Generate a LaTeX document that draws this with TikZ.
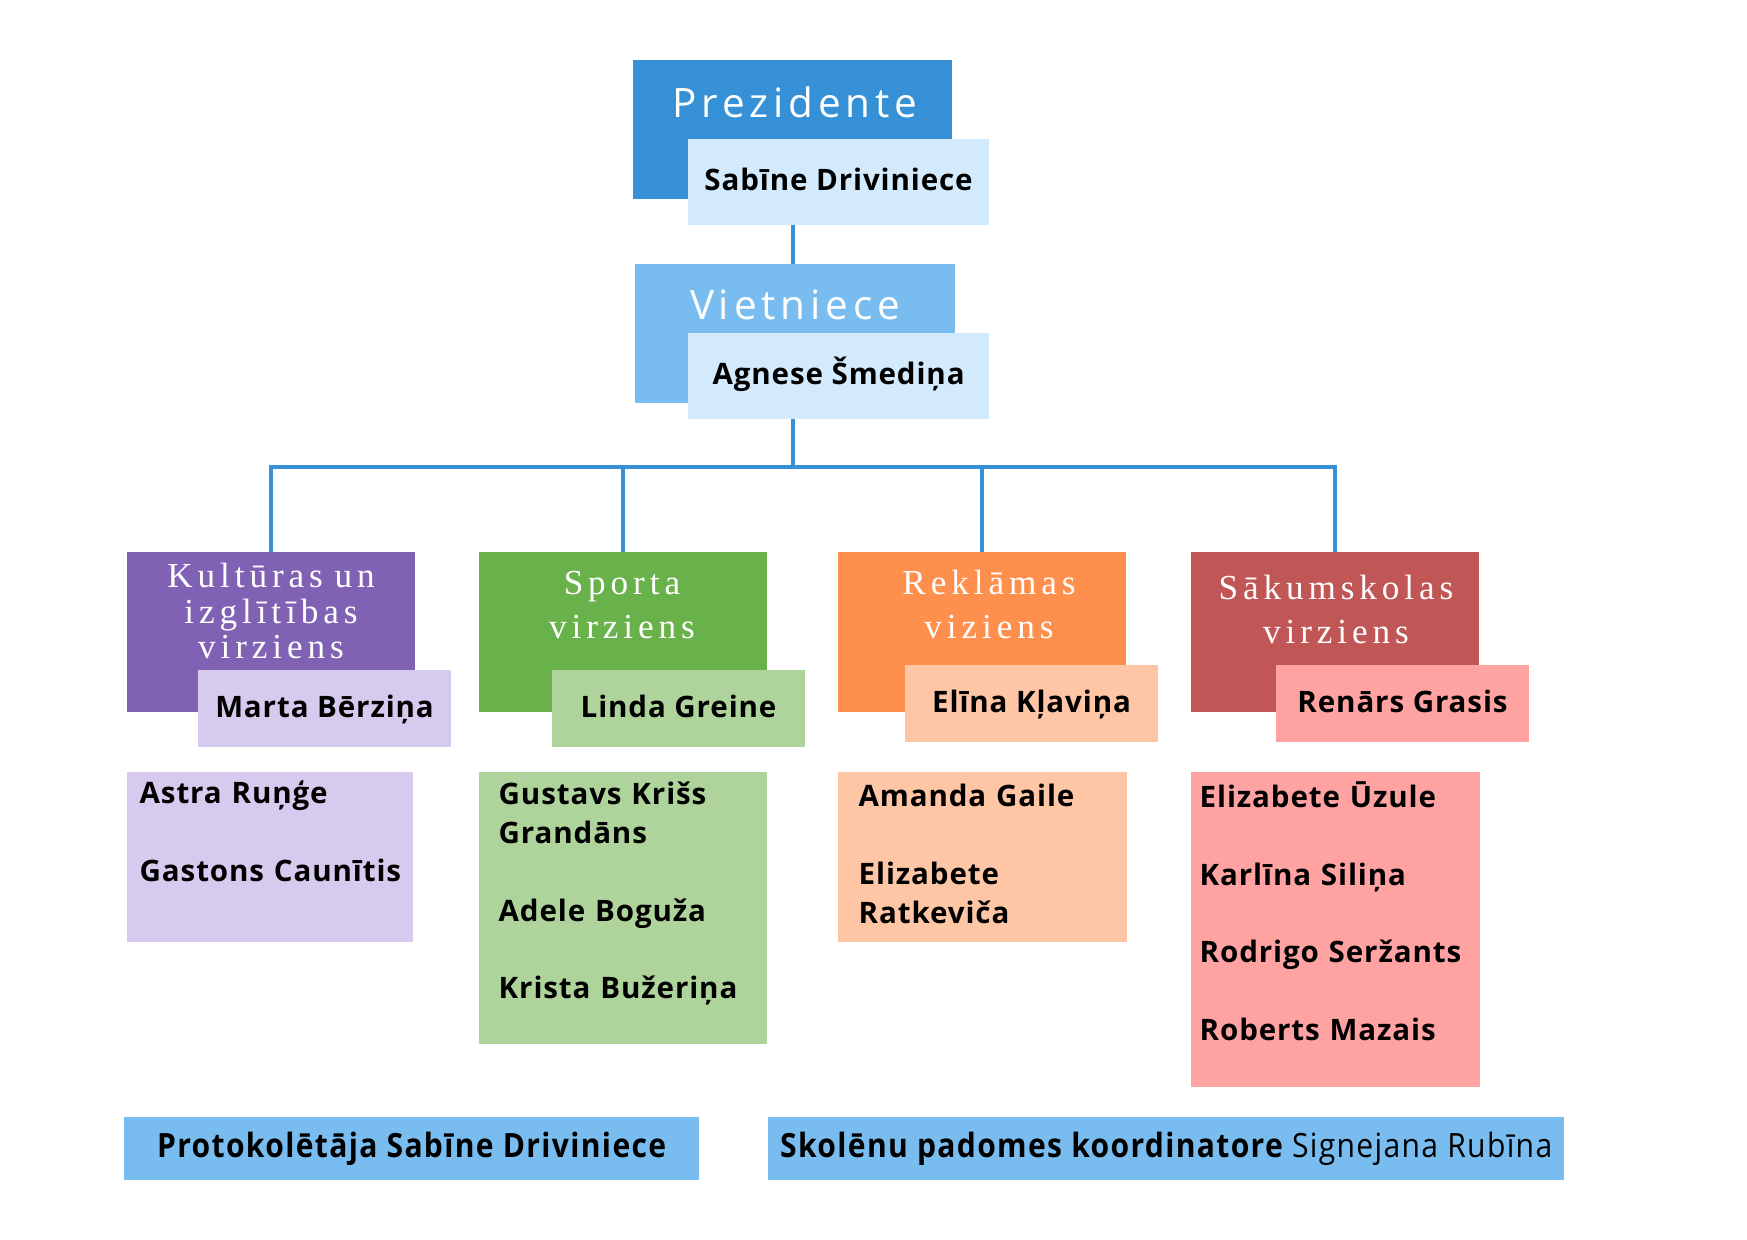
\documentclass[tikz,border=0pt]{standalone}
\usepackage{fontspec}
\setmainfont{Open Sans}
\newfontfamily\namefont{Open Sans}[LetterSpace=3]
\newfontfamily\topfont{Open Sans}[LetterSpace=12]
\newfontfamily\headfont{Liberation Serif}[LetterSpace=14]
\newfontfamily\footfont{Open Sans}[FakeStretch=0.9, LetterSpace=4]
\usetikzlibrary{positioning}

\definecolor{prezblue}{RGB}{53,144,213}
\definecolor{vietblue}{RGB}{121,189,240}
\definecolor{paleblue}{RGB}{210,234,252}
\definecolor{kultdark}{RGB}{128,98,181}
\definecolor{kultpale}{RGB}{214,202,238}
\definecolor{sportdark}{RGB}{105,177,74}
\definecolor{sportpale}{RGB}{174,212,155}
\definecolor{rekldark}{RGB}{255,143,76}
\definecolor{reklpale}{RGB}{254,198,164}
\definecolor{sakdark}{RGB}{193,86,86}
\definecolor{sakpale}{RGB}{255,163,162}

\tikzset{
  block/.style={inner sep=0pt, outer sep=0pt, anchor=north west},
  namebox/.style={block, minimum width=2.53cm, minimum height=0.77cm,
    text height=6pt, text depth=1pt, font=\namefont\bfseries\fontsize{8.4}{11}\selectfont},
  headbox/.style={block, minimum width=2.88cm, minimum height=1.6cm},
  headtxt/.style={anchor=base, inner sep=0pt, text width=2.88cm, align=center,
    text=white, font=\headfont\fontsize{10}{12.5}\selectfont},
  toptxt/.style={anchor=base, inner sep=0pt, text=white, font=\topfont\fontsize{11.5}{13}\selectfont},
  listtxt/.style={anchor=base west, inner sep=0pt, text width=2.7cm, align=left,
    font=\namefont\bfseries\fontsize{8.4}{11}\selectfont},
  footbox/.style={block, fill=vietblue, minimum height=0.63cm,
    font=\footfont\fontsize{9.5}{11}\selectfont},
  link/.style={draw=prezblue, line width=1.05pt}
}

\begin{document}
\begin{tikzpicture}[x=0.01cm, y=-0.01cm]
\fill[white] (0,0) rectangle (1747,1240);
\useasboundingbox (0,0) rectangle (1747,1240);

% top
\node[block, fill=prezblue, minimum width=3.19cm, minimum height=1.39cm] (prez) at (633,60) {};
\node[toptxt] (prezt) at (795,118) {Prezidente};
\node[namebox, fill=paleblue, minimum width=3.01cm, minimum height=0.86cm] (prezname) at (688,139) {Sabīne Driviniece};

\node[block, fill=vietblue, minimum width=3.2cm, minimum height=1.39cm] (viet) at (635,264) {};
\node[toptxt] (viett) at (795,320) {Vietniece};
\node[namebox, fill=paleblue, minimum width=3.01cm, minimum height=0.86cm] (vietname) at (688,333) {Agnese Šmediņa};

\coordinate (hub) at (793,467);
\draw[link] (hub |- prezname.south) -- (hub |- viet.north);
\draw[link] (hub |- vietname.south) -- (hub);

% directions
\node[headbox, fill=kultdark] (kult) at (127,552) {};
\node[headbox, fill=sportdark] (sport) at (479,552) {};
\node[headbox, fill=rekldark] (rekl) at (838,552) {};
\node[headbox, fill=sakdark] (sak) at (1191,552) {};
\foreach \b in {kult,sport,rekl,sak}
  \draw[link] (hub) -| (\b.north);

\node[headtxt, font=\headfont\fontsize{10}{10}\selectfont] (kultt) at (271,588) {Kultūras un\\izglītības\\virziens};
\node[headtxt] (sportt) at (622,595) {Sporta\\virziens};
\node[headtxt] (reklt) at (989,595) {Reklāmas\\viziens};
\node[headtxt] (sakt) at (1336,600) {Sākumskolas\\virziens};

\node[namebox, fill=kultpale] (kultname) at (198,670) {Marta Bērziņa};
\node[namebox, fill=sportpale] (sportname) at (552,670) {Linda Greine};
\node[namebox, fill=reklpale] (reklname) at (905,665) {Elīna Kļaviņa};
\node[namebox, fill=sakpale] (sakname) at (1276,665) {Renārs Grasis};

% members
\node[block, fill=kultpale, minimum width=2.86cm, minimum height=1.7cm] (kultbox) at (127,772) {};
\node[block, fill=sportpale, minimum width=2.88cm, minimum height=2.72cm] (sportbox) at (479,772) {};
\node[block, fill=reklpale, minimum width=2.89cm, minimum height=1.7cm] (reklbox) at (838,772) {};
\node[block, fill=sakpale, minimum width=2.89cm, minimum height=3.15cm] (sakbox) at (1191,772) {};

\node[listtxt] (kultlist) at (139,804) {Astra Ruņģe\\[11pt]Gastons Caunītis};
\node[listtxt] (sportlist) at (498,805) {Gustavs Krišs\\Grandāns\\[11pt]Adele Boguža\\[11pt]Krista Bužeriņa};
\node[listtxt] (rekllist) at (858,807) {Amanda Gaile\\[11pt]Elizabete\\Ratkeviča};
\node[listtxt] (saklist) at (1199,808) {Elizabete Ūzule\\[11pt]Karlīna Siliņa\\[11pt]Rodrigo Seržants\\[11pt]Roberts Mazais};

% bottom
\node[footbox, minimum width=5.75cm] (prot) at (124,1117) {\bfseries Protokolētāja Sabīne Driviniece};
\node[footbox, minimum width=7.96cm] (koord) at (768,1117) {\bfseries Skolēnu padomes koordinatore \mdseries Signejana Rubīna};
\end{tikzpicture}
\end{document}
